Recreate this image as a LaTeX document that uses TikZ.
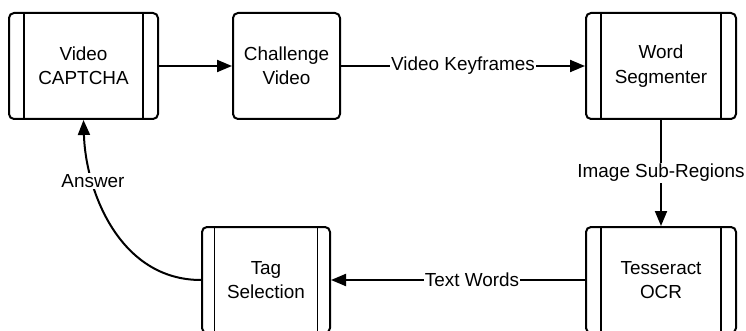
\documentclass[tikz,border=0pt]{standalone}
\usepackage{fontspec}
\setmainfont{Liberation Sans}
\usetikzlibrary{arrows.meta}

\tikzset{
  every node/.style={font=\fontsize{18.9}{24.4}\selectfont, align=center},
  basebox/.style={draw, line width=2pt, rounded corners=5pt, inner sep=0pt,
    minimum height=106pt, fill=white},
  plainbox/.style={basebox},
  procbox/.style={basebox, path picture={
      \draw[line width=1.9pt]
        ([xshift=#1]path picture bounding box.north west) --
        ([xshift=#1]path picture bounding box.south west)
        ([xshift=-#1]path picture bounding box.north east) --
        ([xshift=-#1]path picture bounding box.south east);
    }},
  procbox/.default=15pt,
  flow/.style={line width=2pt, -{Triangle[length=15pt,width=12pt]}},
  tag label/.style={fill=white, inner sep=1pt},
}

\begin{document}
\begin{tikzpicture}[x=1pt, y=-1pt]
  \useasboundingbox (0,0) rectangle (746,331);
  \fill[white] (0,0) rectangle (746,331);
  \clip (0,0) rectangle (746,331);

  % process boxes
  \node[procbox, minimum width=149pt] (cap)  at (83.5,66) {Video\\CAPTCHA};
  \node[plainbox, minimum width=107pt] (chal) at (286.5,66) {Challenge\\Video};
  \node[procbox, minimum width=150pt] (seg)  at (661,66) {Word\\Segmenter};
  \node[procbox, minimum width=150pt] (tess) at (661,280) {Tesseract\\OCR};
  \node[procbox=12.5pt, minimum width=128pt] (tag) at (266,280) {Tag\\Selection};

  % data flow
  \draw[flow] (cap.east) -- (chal.west);
  \draw[flow] (chal.east) -- node[tag label] {Video Keyframes} (seg.west);
  \draw[flow] (seg.south) -- node[tag label] {Image Sub-Regions} (tess.north);
  \draw[flow] (tess.west) -- node[tag label, pos=0.445] {Text Words} (tag.east);
  \draw[flow] (tag.west) .. controls +(-82,0) and +(2,70) ..
    node[tag label, pos=0.72] {Answer} (cap.south);
\end{tikzpicture}
\end{document}
